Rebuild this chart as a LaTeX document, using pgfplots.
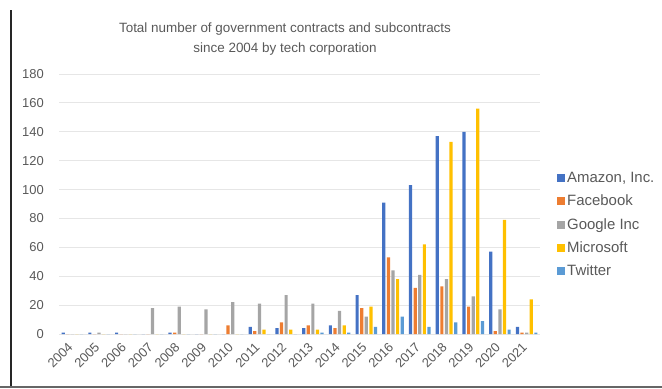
\documentclass[border=0pt]{standalone}
\usepackage{fontspec}
\setmainfont{Liberation Sans}
\usepackage{pgfplots}
\usepackage{pgfplotstable}
\pgfplotsset{compat=1.18}

\definecolor{amazon}{HTML}{4472C4}
\definecolor{facebook}{HTML}{ED7D31}
\definecolor{google}{HTML}{A5A5A5}
\definecolor{microsoft}{HTML}{FFC000}
\definecolor{twitter}{HTML}{5B9BD5}
\definecolor{txt}{HTML}{595959}
\definecolor{gridc}{HTML}{E6E6E6}

% Contracts per year (x = 0 is 2004)
\pgfplotstableread{
x  amazon facebook google microsoft twitter
0    1      0       0      0         0
1    1      0       1      0         0
2    1      0       0      0         0
3    0      0      18      0         0
4    1      1      19      0         0
5    0      0      17      0         0
6    0      6      22      0         0
7    5      2      21      3         0
8    4      8      27      3         0
9    4      6      21      3         1
10   6      4      16      6         1
11  27     18      12     19         5
12  91     53      44     38        12
13 103     32      41     62         5
14 137     33      38    133         8
15 140     19      26    156         9
16  57      2      17     79         3
17   5      1       1     24         1
}\contracts

\begin{document}
\begin{tikzpicture}[x=1bp,y=1bp]
\path[use as bounding box] (0,0) rectangle (662,388);
% frame edges
\draw[black!85, line width=2.2bp] (11,0) -- (11,378);
\draw[black!60, line width=2bp] (0,1) -- (662,1);
% title
\node[txt, font=\fontsize{13.5}{20}\selectfont, align=center] at (285,349)
  {Total number of government contracts and subcontracts\\since 2004 by tech corporation};
\begin{axis}[
  at={(59bp,54bp)}, anchor=south west,
  scale only axis, width=481bp, height=260bp,
  ybar, bar width=3.2bp, ybar=1.4bp,
  xmin=-0.5, xmax=17.5, ymin=0, ymax=180,
  ytick={0,20,...,180},
  xtick={0,...,17},
  xticklabels={2004,2005,2006,2007,2008,2009,2010,2011,2012,2013,2014,2015,2016,2017,2018,2019,2020,2021},
  ymajorgrids, grid style={gridc, line width=0.8bp},
  axis line style={draw=none}, major tick length=0pt,
  /pgf/number format/assume math mode=true,
  tick label style={txt, font=\fontsize{13}{15}\selectfont},
  x tick label style={rotate=45, anchor=north east, inner sep=1bp, xshift=-8.2bp, yshift=-0.8bp},
  y tick label style={inner sep=1bp, xshift=-14bp},
  every axis plot/.append style={draw=none},
  legend style={at={(1,0.42)}, anchor=west, xshift=14bp, draw=none, fill=none,
    font=\fontsize{15}{18}\selectfont, text=txt, row sep=7bp,
    cells={anchor=west}},
  legend image code/.code={\fill[#1] (0bp,-4bp) rectangle (8bp,4bp);},
]
\addplot[fill=amazon] table[x=x, y=amazon] {\contracts};
\addlegendentry{Amazon, Inc.}
\addplot[fill=facebook] table[x=x, y=facebook] {\contracts};
\addlegendentry{Facebook}
\addplot[fill=google] table[x=x, y=google] {\contracts};
\addlegendentry{Google Inc}
\addplot[fill=microsoft] table[x=x, y=microsoft] {\contracts};
\addlegendentry{Microsoft}
\addplot[fill=twitter] table[x=x, y=twitter] {\contracts};
\addlegendentry{Twitter}
\end{axis}
\end{tikzpicture}
\end{document}
